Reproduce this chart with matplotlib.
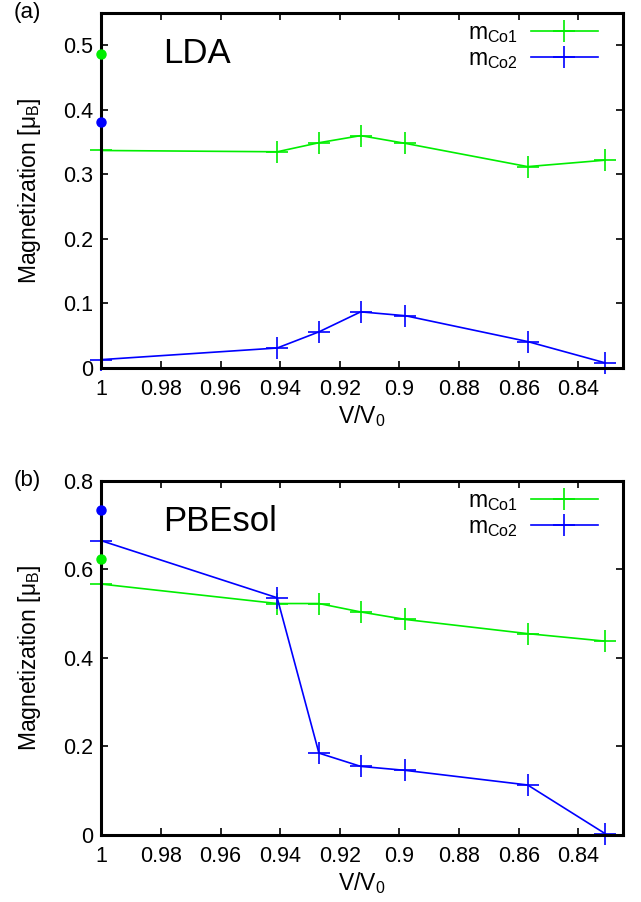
import matplotlib
matplotlib.use('Agg')
import matplotlib.pyplot as plt

plt.rcParams['font.family'] = ['Liberation Sans', 'DejaVu Sans']
plt.rcParams['mathtext.fontset'] = 'custom'
plt.rcParams['mathtext.rm'] = 'Liberation Sans'
plt.rcParams['mathtext.it'] = 'Liberation Sans'

vv0 = [1.0, 0.941, 0.927, 0.913, 0.898, 0.857, 0.831]

lda_co1 = [0.337, 0.335, 0.349, 0.360, 0.348, 0.312, 0.322]
lda_co2 = [0.013, 0.031, 0.056, 0.087, 0.081, 0.041, 0.008]
lda_dots = [0.487, 0.381]  # Co1, Co2 at V/V0 = 1

pbe_co1 = [0.567, 0.523, 0.523, 0.504, 0.487, 0.455, 0.438]
pbe_co2 = [0.665, 0.536, 0.185, 0.155, 0.146, 0.113, 0.003]
pbe_dots = [0.623, 0.734]

xticks = [1, 0.98, 0.96, 0.94, 0.92, 0.9, 0.88, 0.86, 0.84]
xtick_labels = ['1', '0.98', '0.96', '0.94', '0.92', '0.9', '0.88', '0.86', '0.84']

green = '#00ee00'
blue = '#0000ff'

fig = plt.figure(figsize=(6.41, 9.02), dpi=100)
ax1 = fig.add_axes([0.158, 0.592, 0.814, 0.3936])
ax2 = fig.add_axes([0.158, 0.0743, 0.814, 0.3925])


def panel(ax, co1, co2, dots, ymax, yticks, ylabels, name, letter):
    ax.plot(vv0, co1, color=green, lw=1.2, marker='+', ms=16, mew=1.2,
            clip_on=False, label=r'm$_{\mathrm{Co1}}$')
    ax.plot(vv0, co2, color=blue, lw=1.2, marker='+', ms=16, mew=1.2,
            clip_on=False, label=r'm$_{\mathrm{Co2}}$')
    ax.plot([1.0], [dots[0]], 'o', color=green, ms=6.5, clip_on=False, zorder=5)
    ax.plot([1.0], [dots[1]], 'o', color=blue, ms=6.5, clip_on=False, zorder=5)
    ax.set_xlim(1.0, 0.825)
    ax.set_ylim(0, ymax)
    ax.set_xticks(xticks)
    ax.set_xticklabels(xtick_labels)
    ax.set_yticks(yticks)
    ax.set_yticklabels(ylabels)
    ax.tick_params(direction='in', length=5, width=1.2, top=True, right=True,
                   labelsize=15.5)
    ax.tick_params(axis='x', pad=8)
    ax.tick_params(axis='y', pad=6)
    for s in ax.spines.values():
        s.set_linewidth(2.2)
    ax.set_xlabel(r'V/V$_0$', fontsize=16.5, labelpad=2)
    ax.set_ylabel(r'Magnetization [$\mathrm{\mu}_\mathrm{B}$]', fontsize=16.5, labelpad=14)
    ax.text(0.118, 0.86, name, transform=ax.transAxes, fontsize=25)
    ax.text(-0.168, 1.0, letter, transform=ax.transAxes, fontsize=16, va='center')
    ax.legend(loc='upper right', bbox_to_anchor=(0.96, 0.99), frameon=False,
              fontsize=16.5, handlelength=2.9, markerfirst=False, borderaxespad=0,
              borderpad=0.2, labelspacing=0.1, handletextpad=0.6)


panel(ax1, lda_co1, lda_co2, lda_dots, 0.55,
      [0, 0.1, 0.2, 0.3, 0.4, 0.5], ['0', '0.1', '0.2', '0.3', '0.4', '0.5'],
      'LDA', '(a)')
panel(ax2, pbe_co1, pbe_co2, pbe_dots, 0.8,
      [0, 0.2, 0.4, 0.6, 0.8], ['0', '0.2', '0.4', '0.6', '0.8'],
      'PBEsol', '(b)')

fig.savefig('out.png', dpi=100)
